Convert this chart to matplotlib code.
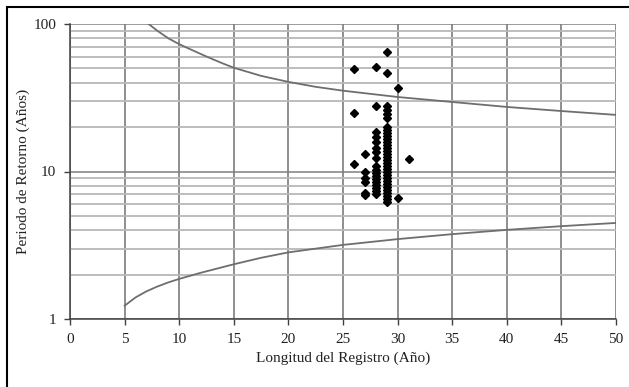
import matplotlib
matplotlib.use("Agg")
import matplotlib.pyplot as plt
from matplotlib.ticker import NullFormatter, LogLocator
from matplotlib.patches import Rectangle

# Observed points (record length, return period)
x26 = [26, 26, 26]
y26 = [49.3, 24.8, 11.2]
x27 = [27, 27, 27, 27, 27, 27]
y27 = [13.1, 10.0, 9.1, 8.45, 7.1, 6.9]
x28 = [28] * 18
y28 = [50.8, 27.8, 18.6, 17.2, 15.9, 14.4, 13.6, 12.3, 10.9, 10.2, 9.8, 9.3,
       8.9, 8.5, 8.1, 7.7, 7.4, 7.0]
x29 = [29] * 32
y29 = [64.9, 46.8, 27.8, 26.1, 24.5, 23.1, 20.0, 19.1, 18.2, 17.4, 16.6, 15.8,
       15.1, 14.4, 13.8, 13.1, 12.5, 12.0, 11.4, 10.9, 10.4, 9.9, 9.5, 9.0,
       8.6, 8.2, 7.85, 7.5, 7.15, 6.8, 6.5, 6.2]
x30 = [30, 30]
y30 = [36.6, 6.6]
x31 = [31]
y31 = [12.1]

# Confidence curves
upper_x = [7.2, 8, 9, 10, 11, 12, 13, 14, 15, 17.5, 20, 22.5, 25, 30, 35, 40, 45, 50]
upper_y = [100, 90, 80, 73, 67.5, 62.5, 58, 54, 50.5, 44.5, 40.5, 37.5, 35.3,
           32, 29.6, 27.4, 25.7, 24.2]
lower_x = [5, 6, 7, 8, 9, 10, 12, 15, 17.5, 20, 25, 30, 35, 40, 45, 50]
lower_y = [1.23, 1.40, 1.54, 1.66, 1.77, 1.87, 2.06, 2.35, 2.6, 2.83, 3.18,
           3.48, 3.76, 4.02, 4.26, 4.48]

xticks = list(range(0, 51, 5))
yticks = [1, 10, 100]
ytick_labels = ["1", "10", "100"]

plt.rcParams['font.family'] = ['Liberation Serif', 'DejaVu Serif']

W, H = 629, 387
fig = plt.figure(figsize=(W / 100, H / 100), dpi=100)
ax = fig.add_axes([70 / W, 1 - 319 / H, (616 - 70) / W, (319 - 24) / H])

ax.set_xlim(0, 50)
ax.set_yscale('log')
ax.set_ylim(1, 100)

ax.set_xticks(xticks)
ax.set_xticklabels([str(t) for t in xticks])
ax.set_yticks(yticks)
ax.set_yticklabels(ytick_labels)
ax.yaxis.set_minor_locator(LogLocator(base=10, subs=range(2, 10)))
ax.yaxis.set_minor_formatter(NullFormatter())

ax.grid(True, which='major', axis='x', color='#707070', lw=1.1)
ax.grid(True, which='major', axis='y', color='#808080', lw=1.1)
ax.grid(True, which='minor', axis='y', color='#b8b8b8', lw=1.3)
ax.set_axisbelow(True)

ax.tick_params(axis='both', which='major', direction='out', length=4, width=1,
               color='#404040', labelsize=11, pad=6, labelcolor='#222222')
ax.tick_params(axis='y', which='minor', length=0)
for side in ['left', 'bottom']:
    ax.spines[side].set_color('#404040')
    ax.spines[side].set_linewidth(1.1)
for side in ['top', 'right']:
    ax.spines[side].set_visible(False)

ax.plot(upper_x, upper_y, color='#6e6e6e', lw=1.3)
ax.plot(lower_x, lower_y, color='#6e6e6e', lw=1.3)

for xs, ys in [(x26, y26), (x27, y27), (x28, y28), (x29, y29), (x30, y30), (x31, y31)]:
    ax.plot(xs, ys, linestyle='none', marker='D', ms=4.4, color='black',
            clip_on=False, zorder=5)

ax.set_xlabel('Longitud del Registro (Año)', fontsize=11, color='#222222',
              va='center')
ax.set_ylabel('Periodo de Retorno (Años)', fontsize=11, color='#222222',
              va='center')
ax.xaxis.set_label_coords(0.5, (319 - 358) / 295)
ax.yaxis.set_label_coords((23 - 70) / 546, 0.5)

# outer frame (top and left visible, rest cropped)
fig.patches.append(Rectangle((7 / W, -0.05), 1.2, 1 - 7 / H + 0.05,
                             transform=fig.transFigure, fill=False,
                             edgecolor='black', lw=1.5))

fig.savefig('out.png', dpi=100)
